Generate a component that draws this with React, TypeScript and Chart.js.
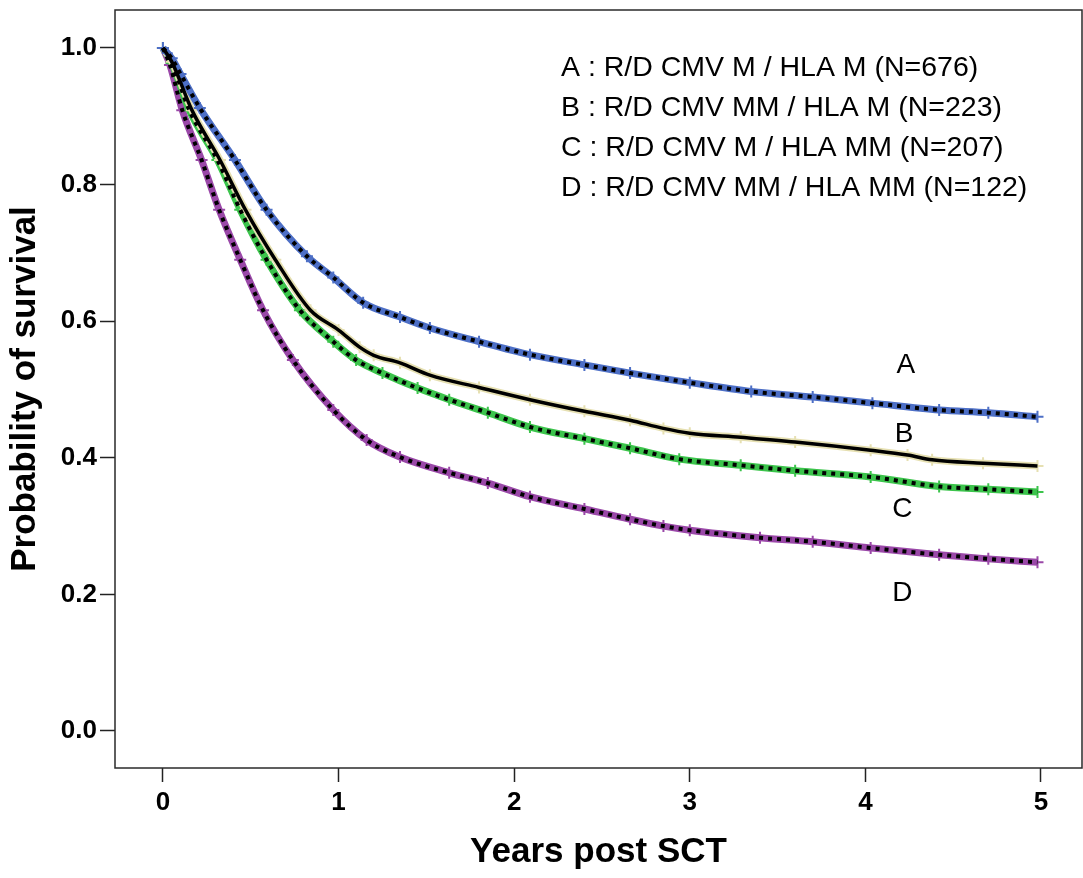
import React, { useEffect, useRef } from "react";
import { Chart, registerables } from "chart.js";

Chart.register(...registerables);

// ---- Data ----
const yearsA = [0, 0.05, 0.1, 0.21, 0.41, 0.59, 0.82, 0.97, 1.14, 1.35, 1.52, 1.8, 2.09, 2.4, 2.66, 3.0, 3.35, 3.7, 4.04, 4.42, 4.7, 4.98];
const survA = [1.0, 0.985, 0.962, 0.912, 0.836, 0.763, 0.695, 0.664, 0.627, 0.606, 0.59, 0.57, 0.551, 0.536, 0.524, 0.51, 0.497, 0.489, 0.48, 0.47, 0.466, 0.46];

const yearsB = [0, 0.05, 0.165, 0.325, 0.47, 0.64, 0.84, 1.0, 1.12, 1.2, 1.35, 1.52, 1.8, 2.09, 2.4, 2.66, 2.85, 3.0, 3.29, 3.6, 4.03, 4.24, 4.38, 4.67, 4.98];
const survB = [1.0, 0.98, 0.909, 0.836, 0.763, 0.69, 0.616, 0.587, 0.562, 0.55, 0.539, 0.521, 0.503, 0.485, 0.468, 0.455, 0.443, 0.436, 0.43, 0.423, 0.411, 0.404, 0.397, 0.392, 0.388];

const yearsC = [0, 0.05, 0.15, 0.31, 0.44, 0.59, 0.78, 0.97, 1.1, 1.25, 1.45, 1.63, 1.85, 2.09, 2.4, 2.66, 2.94, 3.29, 3.6, 4.03, 4.42, 4.7, 4.98];
const survC = [1.0, 0.978, 0.909, 0.836, 0.763, 0.69, 0.616, 0.57, 0.543, 0.524, 0.502, 0.485, 0.466, 0.445, 0.428, 0.414, 0.398, 0.389, 0.381, 0.372, 0.358, 0.354, 0.35];

const yearsD = [0, 0.04, 0.11, 0.22, 0.32, 0.44, 0.57, 0.74, 0.97, 1.16, 1.35, 1.63, 1.85, 2.09, 2.4, 2.66, 2.85, 3.0, 3.4, 3.7, 4.03, 4.42, 4.7, 4.98];
const survD = [1.0, 0.975, 0.909, 0.836, 0.763, 0.69, 0.616, 0.543, 0.47, 0.426, 0.401, 0.378, 0.363, 0.343, 0.325, 0.31, 0.3, 0.294, 0.283, 0.277, 0.268, 0.258, 0.252, 0.247];

const yTickValues = [0, 0.2, 0.4, 0.6, 0.8, 1.0];
const xTickValues = [0, 1, 2, 3, 4, 5];

const legendLines = [
  "A : R/D CMV M / HLA M (N=676)",
  "B : R/D CMV MM / HLA M (N=223)",
  "C : R/D CMV M / HLA MM (N=207)",
  "D : R/D CMV MM / HLA MM (N=122)",
];

const curveLabels = ["A", "B", "C", "D"];
const curveLabelYears = [4.23, 4.22, 4.21, 4.21];
const curveLabelSurv = [0.536, 0.434, 0.325, 0.202];

const FONT = '"Liberation Sans", Arial, Helvetica, sans-serif';

const toPoints = (xs: number[], ys: number[]) => xs.map((x, i) => ({ x, y: ys[i] }));

const annotPlugin = {
  id: "annot",
  afterDraw(chart: any) {
    const { ctx, chartArea, scales } = chart;
    const x = scales.x;
    const y = scales.y;
    ctx.save();
    ctx.strokeStyle = "#2a2a2a";
    ctx.lineWidth = 1.5;
    ctx.strokeRect(
      chartArea.left,
      chartArea.top,
      chartArea.right - chartArea.left,
      chartArea.bottom - chartArea.top
    );
    ctx.fillStyle = "#000";
    // x tick labels
    ctx.textAlign = "center";
    ctx.textBaseline = "middle";
    ctx.font = `bold 26px ${FONT}`;
    xTickValues.forEach((v) => ctx.fillText(String(v), x.getPixelForValue(v), chartArea.bottom + 35));
    // legend text
    ctx.textAlign = "left";
    ctx.font = `28.5px ${FONT}`;
    legendLines.forEach((t, i) => ctx.fillText(t, 561, 68 + i * 40));
    // curve labels
    ctx.textAlign = "center";
    ctx.font = `28px ${FONT}`;
    curveLabels.forEach((l, i) =>
      ctx.fillText(l, x.getPixelForValue(curveLabelYears[i]), y.getPixelForValue(curveLabelSurv[i]))
    );
    ctx.restore();
  },
};

const zeroPad = (s: any) => {
  s.paddingLeft = 0;
  s.paddingRight = 0;
  s.paddingTop = 0;
  s.paddingBottom = 0;
};

export default function App() {
  const ref = useRef<HTMLCanvasElement | null>(null);

  useEffect(() => {
    if (!ref.current) return;
    const colored = (data: any, color: string) => ({
      data,
      borderColor: color,
      backgroundColor: color,
      borderWidth: 7,
      pointStyle: "cross",
      pointRadius: 6,
      pointBorderWidth: 2,
      pointBorderColor: color,
      cubicInterpolationMode: "monotone",
      fill: false,
      order: 2,
    });
    const overlay = (data: any, dashed: boolean) => ({
      data,
      borderColor: "#000",
      borderWidth: dashed ? 4 : 3.5,
      borderDash: dashed ? [4, 5] : [],
      pointRadius: 0,
      cubicInterpolationMode: "monotone",
      fill: false,
      order: 1,
    });
    const a = toPoints(yearsA, survA);
    const b = toPoints(yearsB, survB);
    const c = toPoints(yearsC, survC);
    const d = toPoints(yearsD, survD);

    const chart = new Chart(ref.current, {
      type: "line",
      data: {
        datasets: [
          colored(a, "#4d6fc6"),
          overlay(a, true),
          colored(b, "#e6e0b2"),
          overlay(b, false),
          colored(c, "#3cc44c"),
          overlay(c, true),
          colored(d, "#9a48a8"),
          overlay(d, true),
        ] as any,
      },
      options: {
        animation: false,
        responsive: false,
        maintainAspectRatio: false,
        devicePixelRatio: 1,
        layout: { autoPadding: false, padding: { top: 10, right: 1, left: 0, bottom: 0 } },
        plugins: { legend: { display: false }, tooltip: { enabled: false } },
        scales: {
          x: {
            type: "linear",
            min: -0.273,
            max: 5.2335,
            afterFit: (s: any) => {
              s.height = 110;
              zeroPad(s);
            },
            afterBuildTicks: (s: any) => {
              s.ticks = xTickValues.map((v) => ({ value: v }));
            },
            border: { display: false },
            grid: {
              drawOnChartArea: false,
              drawTicks: true,
              tickLength: 14,
              tickWidth: 1.5,
              tickColor: "#222",
            },
            ticks: {
              display: false,
            },
            title: {
              display: true,
              text: "Years post SCT",
              color: "#000",
              font: { family: FONT, size: 35, weight: "bold" },
              padding: { top: 0, bottom: 5 },
            },
          },
          y: {
            type: "linear",
            min: -0.0542,
            max: 1.0556,
            afterFit: (s: any) => {
              s.width = 115;
              zeroPad(s);
            },
            afterBuildTicks: (s: any) => {
              s.ticks = yTickValues.map((v) => ({ value: v }));
            },
            border: { display: false },
            grid: {
              drawOnChartArea: false,
              drawTicks: true,
              tickLength: 15,
              tickWidth: 1.5,
              tickColor: "#222",
            },
            ticks: {
              color: "#000",
              padding: 3,
              font: { family: FONT, size: 26, weight: "bold" },
              callback: (v: any) => Number(v).toFixed(1),
            },
            title: {
              display: true,
              text: "Probability of survival",
              color: "#000",
              font: { family: FONT, size: 35, weight: "bold" },
              padding: { top: 4, bottom: 0 },
            },
          },
        },
      },
      plugins: [annotPlugin],
    } as any);
    return () => chart.destroy();
  }, []);

  return (
    <div style={{ position: "absolute", left: 0, top: 0, width: 1083, height: 878, background: "#fff" }}>
      <canvas ref={ref} width={1083} height={878} style={{ display: "block" }} />
    </div>
  );
}
